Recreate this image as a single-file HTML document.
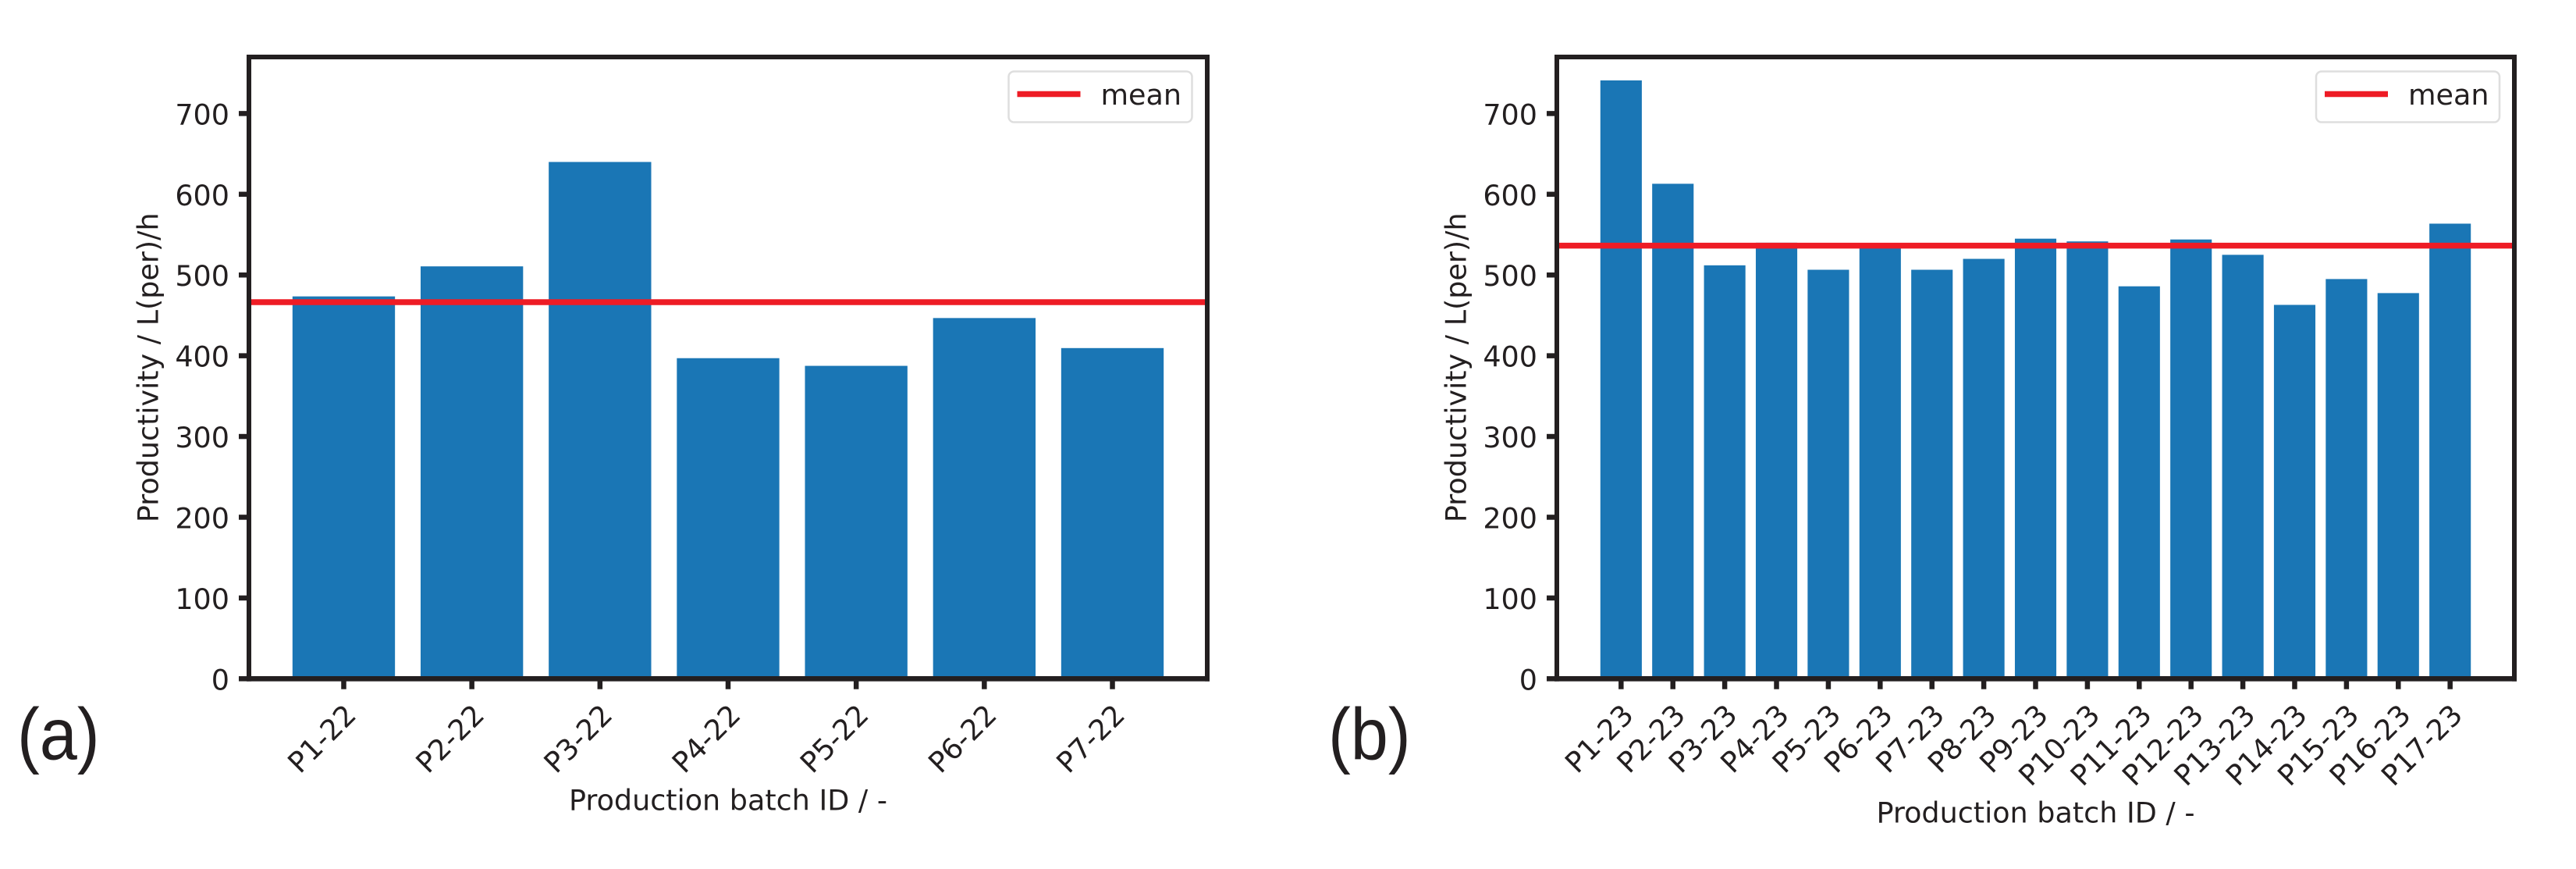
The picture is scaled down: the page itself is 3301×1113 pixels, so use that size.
<!DOCTYPE html>
<html lang="en">
<head>
<meta charset="utf-8">
<title>Productivity per production batch</title>
<style>
html,body{margin:0;padding:0;background:#fff;}
svg{display:block;}
text{font-family:"DejaVu Sans","Liberation Sans",sans-serif;fill:#231f20;}
</style>
</head>
<body>
<svg id="figure" xmlns="http://www.w3.org/2000/svg" width="3301" height="1113" viewBox="0 0 3301 1113"></svg>
<script>
const categoriesA = ['P1-22','P2-22','P3-22','P4-22','P5-22','P6-22','P7-22'];
const valuesA = [473.5,510.7,640,397,387.5,446.7,409.5];
const meanA = [466.4];
const categoriesB = ['P1-23','P2-23','P3-23','P4-23','P5-23','P6-23','P7-23','P8-23','P9-23','P10-23','P11-23','P12-23','P13-23','P14-23','P15-23','P16-23','P17-23'];
const valuesB = [741,613,512,540,506.5,537,506.5,520,545,541.6,486,544,525,463,495,477.6,563.6];
const meanB = [536.3];
const yTickLabels = ['0','100','200','300','400','500','600','700'];
const yAxisTitle = 'Productivity / L(per)/h';
const xAxisTitle = 'Production batch ID / -';
const legendLabel = 'mean';

const NS = 'http://www.w3.org/2000/svg';
const root = document.getElementById('figure');
const INK = '#231f20', BLUE = '#1a76b5', RED = '#ee1c25';
const FONT = 36.5;

function mk(tag, attrs, parent) {
  const e = document.createElementNS(NS, tag);
  for (const a in attrs) e.setAttribute(a, attrs[a]);
  parent.appendChild(e);
  return e;
}
function txt(str, x, y, anchor, rot, size, parent) {
  const t = mk('text', {
    'text-anchor': anchor,
    'font-size': size,
    transform: 'translate(' + x + ' ' + y + ') rotate(' + rot + ')'
  }, parent);
  t.textContent = str;
  return t;
}

function drawPanel(id, categories, values, mean, box, titleY, lg) {
  const g = mk('g', {}, root);
  
  

  const n = categories.length;
  const yMax = 770;
  const span = (n - 1) + 0.8;
  const pad = 0.05 * span;
  const xLo = -0.4 - pad, xHi = n - 1 + 0.4 + pad;
  const xScale = v => box.l + (v - xLo) / (xHi - xLo) * (box.r - box.l);
  const yScale = v => box.b - v / yMax * (box.b - box.t);
  const unit = xScale(1) - xScale(0);

  values.forEach((v, i) => {
    const bar = mk('rect', {
      x: xScale(i) - 0.4 * unit,
      y: yScale(v),
      width: 0.8 * unit,
      height: yScale(0) - yScale(v),
      fill: BLUE
    }, g);
    
    
  });

  const meanLine = mk('line', {
    x1: box.l, x2: box.r, y1: yScale(mean[0]), y2: yScale(mean[0]),
    stroke: RED, 'stroke-width': 7.5
  }, g);
  
  

  const spineLeft = mk('line', {x1: box.l, x2: box.l, y1: box.t - 3, y2: box.b + 3.3, stroke: INK, 'stroke-width': 6}, g);
  
  
  const spineRight = mk('line', {x1: box.r, x2: box.r, y1: box.t - 3, y2: box.b + 3.3, stroke: INK, 'stroke-width': 6}, g);
  
  
  const spineTop = mk('line', {x1: box.l - 3, x2: box.r + 3, y1: box.t, y2: box.t, stroke: INK, 'stroke-width': 6}, g);
  
  
  const spineBottom = mk('line', {x1: box.l - 3, x2: box.r + 3, y1: box.b, y2: box.b, stroke: INK, 'stroke-width': 6.6}, g);
  
  

  yTickLabels.forEach(label => {
    const y = yScale(Number(label));
    const tick = mk('line', {x1: box.l - 13, x2: box.l, y1: y, y2: y, stroke: INK, 'stroke-width': 6.5}, g);
    
    
    const t = txt(label, box.l - 25, y + 14, 'end', 0, FONT, g);
    
    
  });

  categories.forEach((c, i) => {
    const x = xScale(i);
    const tick = mk('line', {x1: x, x2: x, y1: box.b, y2: box.b + 13.4, stroke: INK, 'stroke-width': 6.5}, g);
    
    
    const t = txt(c, x + 18, 918, 'end', -45, FONT, g);
    
    
  });

  const yTitle = txt(yAxisTitle, box.l - 116.7, 470.8, 'middle', -90, FONT, g);
  
  
  const xTitle = txt(xAxisTitle, (box.l + box.r) / 2, titleY, 'middle', 0, FONT, g);
  
  

  const legend = mk('g', {}, g);
  
  
  const frame = mk('rect', {x: lg.x, y: 91.5, width: 235, height: 65, rx: 7, fill: '#fff', stroke: '#dedede', 'stroke-width': 2.5}, legend);
  
  
  const swatch = mk('line', {x1: lg.x + 11, x2: lg.x + 92, y1: 120.5, y2: 120.5, stroke: RED, 'stroke-width': 7.5}, legend);
  
  
  const lgText = txt(legendLabel, lg.x + 118, 134, 'start', 0, FONT, legend);
  
  

  const tag = mk('text', {
    'text-anchor': 'start',
    'font-size': 94,
    transform: 'translate(' + lg.tagX + ' 972.7) scale(' + lg.tagSx + ' 1)',
    style: 'font-family:"Liberation Sans",sans-serif'
  }, g);
  tag.textContent = '(' + id + ')';
  
  
}

drawPanel('a', categoriesA, valuesA, meanA, {l: 319, r: 1547, t: 73, b: 869.3}, 1037.3, {x: 1292.5, tagX: 22, tagSx: 0.92});
drawPanel('b', categoriesB, valuesB, meanB, {l: 1995, r: 3222, t: 73, b: 869.3}, 1053.3, {x: 2968, tagX: 1702, tagSx: 0.92});
</script>
</body>
</html>
